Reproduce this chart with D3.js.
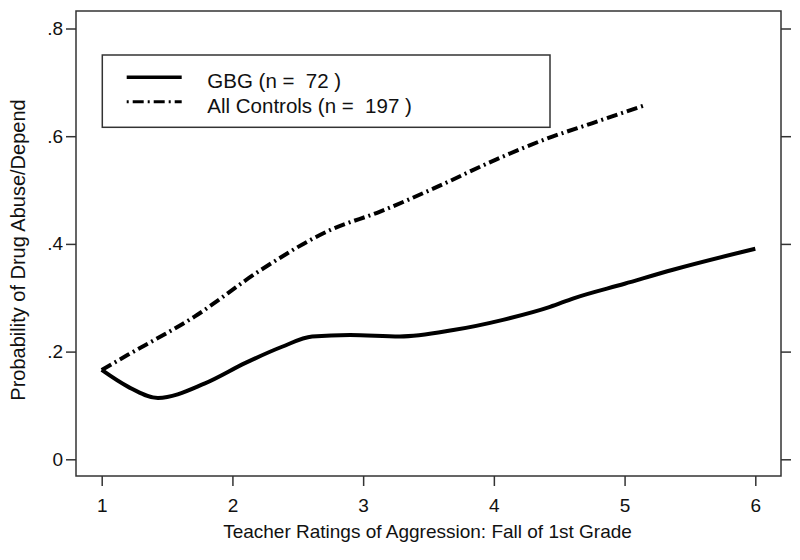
<!DOCTYPE html>
<html><head><meta charset="utf-8">
<script src="https://cdn.jsdelivr.net/npm/d3@7"></script>
<style>body{margin:0;background:#fff}svg{display:block}text{font-family:"Liberation Sans",Arial,sans-serif;fill:#111}</style>
</head><body><svg id="c" width="800" height="560"></svg>
<script>
const gbgX = [1.0, 1.2, 1.43, 1.79, 2.1, 2.38, 2.61, 2.9, 3.28, 3.69, 4.07, 4.43, 4.61, 5.0, 5.37, 6.0];
const gbgY = [0.166, 0.135, 0.114, 0.141, 0.179, 0.209, 0.228, 0.231, 0.228, 0.240, 0.259, 0.283, 0.299, 0.326, 0.352, 0.391];
const ctlX = [1.0, 1.2, 1.71, 2.22, 2.75, 3.13, 3.54, 4.02, 4.40, 4.75, 5.16];
const ctlY = [0.166, 0.194, 0.265, 0.352, 0.426, 0.460, 0.503, 0.557, 0.595, 0.624, 0.658];
const xTicks = [1, 2, 3, 4, 5, 6];
const yTicks = [0, 0.2, 0.4, 0.6, 0.8];
const yTickLabels = ["0", ".2", ".4", ".6", ".8"];
const legendLabels = ["GBG (n =  72 )", "All Controls (n =  197 )"];
const xTitle = "Teacher Ratings of Aggression: Fall of 1st Grade";
const yTitle = "Probability of Drug Abuse/Depend";

const svg = d3.select("#c");
const L = 76, R = 781, T = 11, B = 476;
const x = d3.scaleLinear().domain([1, 6]).range([101.7, 755.3]);
const y = d3.scaleLinear().domain([0, 0.8]).range([459.3, 28.5]);
const axisCol = "#333";
const FF = "Liberation Sans, Arial, sans-serif";

svg.append("rect").attr("x", L).attr("y", T).attr("width", R - L).attr("height", B - T)
  .attr("fill", "none").attr("stroke", axisCol).attr("stroke-width", 1.5);

const ya = svg.append("g").attr("transform", `translate(${L},0)`)
  .call(d3.axisLeft(y).tickValues(yTicks).tickSize(10).tickPadding(3)
    .tickFormat((d, i) => yTickLabels[i]));
ya.select(".domain").remove();
ya.selectAll("line").attr("stroke", axisCol).attr("stroke-width", 1.5);
ya.selectAll("text").attr("font-size", 19).attr("font-family", FF).attr("fill", "#111");

const yr = svg.append("g").attr("transform", `translate(${R},0)`)
  .call(d3.axisRight(y).tickValues(yTicks).tickSize(10).tickFormat(""));
yr.select(".domain").remove();
yr.selectAll("line").attr("stroke", axisCol).attr("stroke-width", 1.5);

const xa = svg.append("g").attr("transform", `translate(0,${B})`)
  .call(d3.axisBottom(x).tickValues(xTicks).tickSize(10).tickPadding(13).tickFormat(d3.format("d")));
xa.select(".domain").remove();
xa.selectAll("line").attr("stroke", axisCol).attr("stroke-width", 1.5);
xa.selectAll("text").attr("font-size", 19).attr("font-family", FF).attr("fill", "#111");

svg.append("text").attr("x", 427.5).attr("y", 538).attr("text-anchor", "middle")
  .attr("font-size", 19).text(xTitle);
svg.append("text").attr("transform", `translate(25,250) rotate(-90)`)
  .attr("text-anchor", "middle").attr("font-size", 20).text(yTitle);

const line = d3.line().x(d => x(d[0])).y(d => y(d[1])).curve(d3.curveMonotoneX);
svg.append("path").datum(ctlX.map((v, i) => [v, ctlY[i]])).attr("d", line)
  .attr("fill", "none").attr("stroke", "#000").attr("stroke-width", 4)
  .attr("stroke-dasharray", "11,4,2,4");
svg.append("path").datum(gbgX.map((v, i) => [v, gbgY[i]])).attr("d", line)
  .attr("fill", "none").attr("stroke", "#000").attr("stroke-width", 4);

svg.append("rect").attr("x", 102.3).attr("y", 55).attr("width", 447.7).attr("height", 72.3)
  .attr("fill", "#fff").attr("stroke", axisCol).attr("stroke-width", 1.5);
const ly = [77.3, 101.7];
svg.append("line").attr("x1", 126.7).attr("x2", 181.7).attr("y1", ly[0]).attr("y2", ly[0])
  .attr("stroke", "#000").attr("stroke-width", 3.5);
svg.append("line").attr("x1", 126.7).attr("x2", 181.7).attr("y1", ly[1]).attr("y2", ly[1])
  .attr("stroke", "#000").attr("stroke-width", 3).attr("stroke-dasharray", "2,4,11,4");
legendLabels.forEach((t, i) => {
  svg.append("text").attr("x", 207.3).attr("y", ly[i] + 11).attr("font-size", 20.5)
    .attr("xml:space", "preserve").style("white-space", "pre").text(t);
});
</script></body></html>
